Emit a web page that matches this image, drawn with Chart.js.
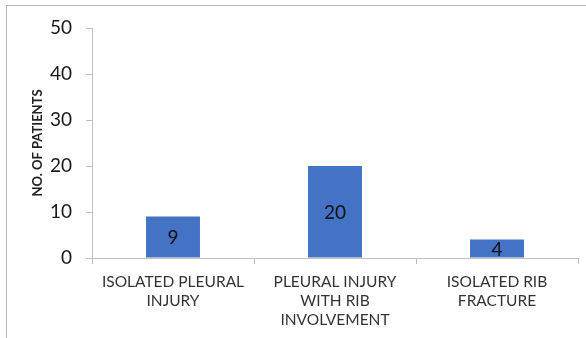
<!DOCTYPE html>
<html>
<head>
<meta charset="utf-8">
<script src="https://cdn.jsdelivr.net/npm/chart.js@4.4.0/dist/chart.umd.min.js"></script>
<style>
  html, body { margin: 0; padding: 0; background: #fff; }
  #wrap { position: relative; width: 586px; height: 338px; overflow: hidden; }
  #frame {
    position: absolute; left: 6px; top: 5px; width: 600px; height: 400px;
    border-top: 1px solid #b8b8b8; border-left: 1px solid #b8b8b8;
  }
  canvas { position: absolute; left: 0; top: 0; }
</style>
</head>
<body>
<div id="wrap">
  <div id="frame"></div>
  <canvas id="chart" width="586" height="338"></canvas>
</div>
<script>
const categories = [
  ['ISOLATED PLEURAL', 'INJURY'],
  ['PLEURAL INJURY', 'WITH RIB', 'INVOLVEMENT'],
  ['ISOLATED RIB', 'FRACTURE']
];
const patients = [9, 20, 4];
const yTicks = [0, 10, 20, 30, 40, 50];

const axisColor = '#bfbfbf';
const textColor = '#333';

// writes each bar's value in the middle of the bar
const barValues = {
  id: 'barValues',
  afterDatasetsDraw(chart) {
    const ctx = chart.ctx;
    ctx.save();
    ctx.fillStyle = '#111';
    ctx.font = '19px Lato';
    ctx.textAlign = 'center';
    ctx.textBaseline = 'middle';
    chart.getDatasetMeta(0).data.forEach((bar, i) => {
      ctx.fillText(String(patients[i]), bar.x, (bar.y + bar.base) / 2 + 1);
    });
    ctx.restore();
  }
};

new Chart(document.getElementById('chart'), {
  type: 'bar',
  data: {
    labels: categories,
    datasets: [{
      data: patients,
      backgroundColor: '#4472c4',
      barPercentage: 0.333,
      categoryPercentage: 1
    }]
  },
  options: {
    responsive: false,
    animation: false,
    layout: { padding: { top: 28, right: 8, bottom: 0, left: 0 } },
    plugins: {
      legend: { display: false },
      tooltip: { enabled: false }
    },
    scales: {
      x: {
        grid: { drawOnChartArea: false, color: axisColor, tickLength: 6 },
        border: { color: axisColor },
        ticks: {
          color: textColor,
          font: { family: 'Lato', size: 15.5, lineHeight: 1.25 },
          padding: 8,
          maxRotation: 0,
          autoSkip: false
        },
        afterFit(scale) { scale.height = 80; }
      },
      y: {
        min: 0,
        max: 50,
        afterBuildTicks(scale) { scale.ticks = yTicks.map(v => ({ value: v })); },
        grid: { drawOnChartArea: false, color: axisColor, tickLength: 6 },
        border: { color: axisColor },
        ticks: {
          color: '#1a1a1a',
          font: { family: 'Lato', size: 19 },
          padding: 14
        },
        title: {
          display: true,
          text: 'NO. OF PATIENTS',
          color: '#222',
          font: { family: 'Lato', size: 13, weight: 'bold' },
          padding: { top: 30, bottom: 0 }
        },
        afterFit(scale) { scale.width = 92; }
      }
    }
  },
  plugins: [barValues]
});
</script>
</body>
</html>
